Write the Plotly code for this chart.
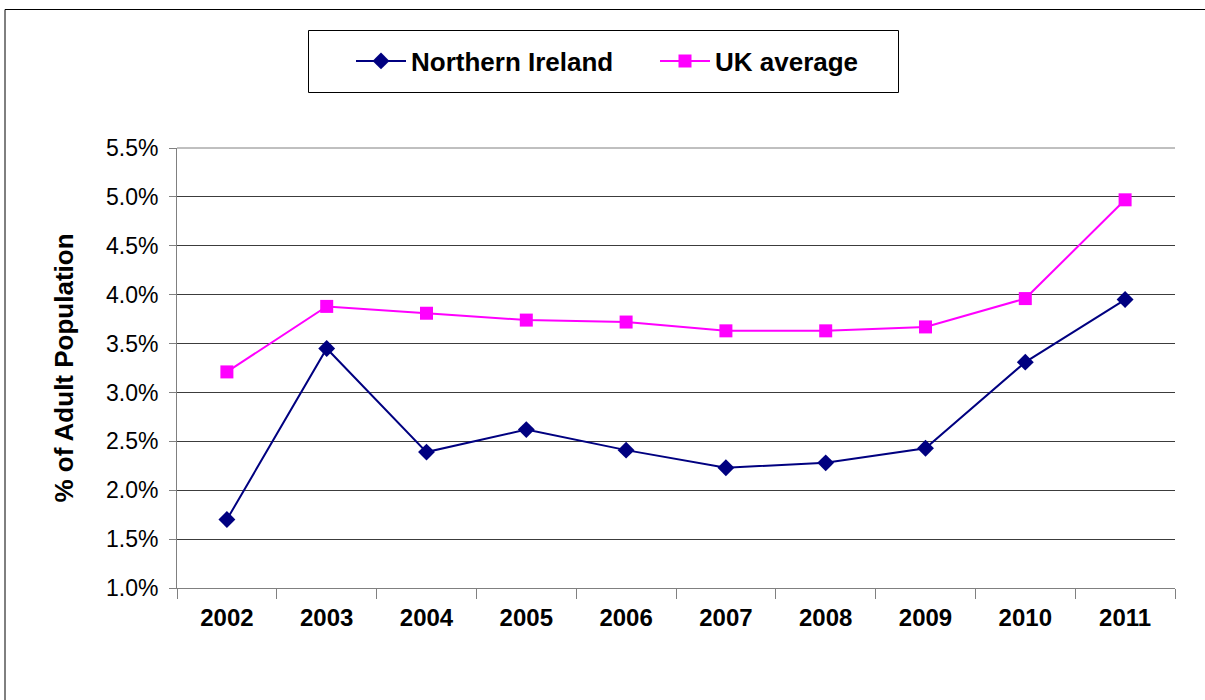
import plotly.graph_objects as go

# Share of the adult population, by year
years = ["2002", "2003", "2004", "2005", "2006", "2007", "2008", "2009", "2010", "2011"]
northern_ireland = [0.0170, 0.0345, 0.0239, 0.0262, 0.0241, 0.0223, 0.0228, 0.0243, 0.0331, 0.0395]
uk_average = [0.0321, 0.0388, 0.0381, 0.0374, 0.0372, 0.0363, 0.0363, 0.0367, 0.0396, 0.0497]

y_ticks = [0.010, 0.015, 0.020, 0.025, 0.030, 0.035, 0.040, 0.045, 0.050, 0.055]

FONT = "Liberation Sans, Arial, sans-serif"

# plot area in pixels: x 177..1175, y 148..588
PX_L, PX_W, PX_T, PX_H = 177, 998, 148, 440


def px_x(px):
    return (px - PX_L) / PX_W


def px_y(py):
    return 1 + (PX_T - py) / PX_H


fig = go.Figure()
fig.add_trace(go.Scatter(
    x=years, y=northern_ireland, name="Northern Ireland", mode="lines+markers",
    line=dict(color="#000080", width=2),
    marker=dict(symbol="diamond", size=13, color="#000080"),
))
fig.add_trace(go.Scatter(
    x=years, y=uk_average, name="UK average", mode="lines+markers",
    line=dict(color="#FF00FF", width=2),
    marker=dict(symbol="square", size=13, color="#FF00FF"),
))

fig.update_layout(
    width=1205, height=700,
    margin=dict(l=177, r=30, t=148, b=112),
    paper_bgcolor="white", plot_bgcolor="white",
    font=dict(family=FONT, size=22, color="black"),
    showlegend=True,
    legend=dict(
        orientation="h", xanchor="left", yanchor="middle",
        x=px_x(351), y=px_y(61),
        borderwidth=0, bgcolor="rgba(0,0,0,0)",
        font=dict(family=FONT, size=26, color="black", weight="bold"),
        itemwidth=50, entrywidth=239, tracegroupgap=0,
    ),
    xaxis=dict(
        type="category", range=[-0.5, 9.5], tickson="boundaries",
        ticks="outside", ticklen=10, tickcolor="#808080",
        showline=True, linecolor="#808080", linewidth=1,
        showgrid=False, tickfont=dict(family=FONT, size=24, weight="bold"),
        ticklabelstandoff=8,
    ),
    yaxis=dict(
        range=[0.010, 0.055], tickvals=y_ticks, tickformat=".1%",
        ticks="outside", ticklen=7, tickcolor="#808080",
        showline=True, linecolor="#808080", linewidth=1,
        showgrid=True, gridcolor="#3c3c3c", gridwidth=1,
        tickfont=dict(family=FONT, size=23),
        ticklabelstandoff=6,
        title=dict(text="% of Adult Population", standoff=24,
                   font=dict(family=FONT, size=26, weight="bold")),
    ),
    shapes=[
        # outer chart frame
        dict(type="rect", xref="paper", yref="paper",
             x0=px_x(5), x1=px_x(1215), y0=px_y(720), y1=px_y(9.5),
             line=dict(color="black", width=1), layer="below"),
        # legend frame
        dict(type="rect", xref="paper", yref="paper",
             x0=px_x(308.5), x1=px_x(898.5), y0=px_y(92.5), y1=px_y(30.5),
             line=dict(color="black", width=1), layer="below"),
        # top gridline in the axis grey
        dict(type="line", xref="paper", yref="paper", x0=0, x1=1, y0=1, y1=1,
             line=dict(color="#808080", width=1)),
    ],
)

fig.write_html("out.html")
